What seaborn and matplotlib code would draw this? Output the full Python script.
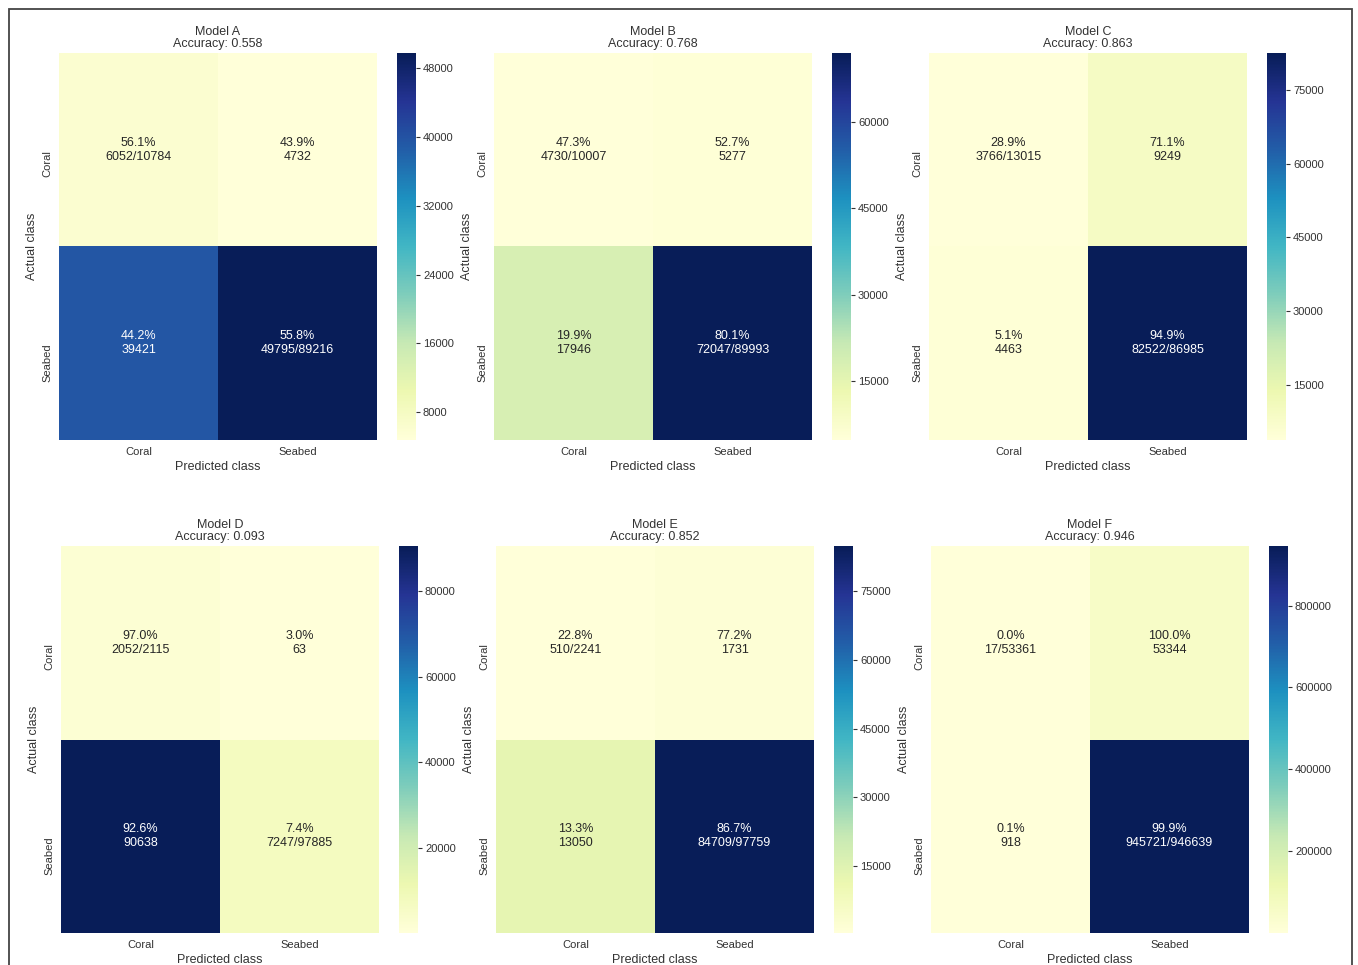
import numpy as np
import pandas as pd
import seaborn as sns
import matplotlib.pyplot as plt
from matplotlib.patches import Rectangle

# Confusion matrices (rows: actual, cols: predicted)
class_names = ["Coral", "Seabed"]
model_names = ["Model A", "Model B", "Model C", "Model D", "Model E", "Model F"]
model_a = [[6052, 4732], [39421, 49795]]
model_b = [[4730, 5277], [17946, 72047]]
model_c = [[3766, 9249], [4463, 82522]]
model_d = [[2052, 63], [90638, 7247]]
model_e = [[510, 1731], [13050, 84709]]
model_f = [[17, 53344], [918, 945721]]
matrices = [model_a, model_b, model_c, model_d, model_e, model_f]

# Colorbar tick values for each panel
cbar_ticks = [
    [8000, 16000, 24000, 32000, 40000, 48000],
    [15000, 30000, 45000, 60000],
    [15000, 30000, 45000, 60000, 75000],
    [20000, 40000, 60000, 80000],
    [15000, 30000, 45000, 60000, 75000],
    [200000, 400000, 600000, 800000],
]

sns.set_style("white")
plt.rcParams["font.family"] = ["Liberation Sans", "DejaVu Sans"]
text_color = "#333333"
plt.rcParams["text.color"] = text_color
plt.rcParams["axes.labelcolor"] = text_color
plt.rcParams["xtick.color"] = text_color
plt.rcParams["ytick.color"] = text_color

W, H = 1358, 965
fig = plt.figure(figsize=(W / 100, H / 100), dpi=100)

# Panel layout in pixels: (left, top) of heatmap axes
panel_origin = [(59, 53), (494, 53), (929, 53), (61, 546), (496, 546), (931, 546)]
ax_w, ax_h = 318, 387
cb_gap, cb_w = 20, 19


def px_rect(x, y, w, h):
    return [x / W, (H - y - h) / H, w / W, h / H]


for name, mat, ticks, (x0, y0) in zip(model_names, matrices, cbar_ticks, panel_origin):
    cm = np.array(mat)
    row_tot = cm.sum(axis=1)
    acc = np.trace(cm) / cm.sum()
    labels = []
    for i in range(2):
        row = []
        for j in range(2):
            pct = cm[i, j] / row_tot[i] * 100
            if i == j:
                row.append(f"{pct:.1f}%\n{cm[i, j]}/{row_tot[i]}")
            else:
                row.append(f"{pct:.1f}%\n{cm[i, j]}")
        labels.append(row)
    df = pd.DataFrame(cm, index=class_names, columns=class_names)

    ax = fig.add_axes(px_rect(x0, y0, ax_w, ax_h))
    cax = fig.add_axes(px_rect(x0 + ax_w + cb_gap, y0, cb_w, ax_h))
    sns.heatmap(df, annot=np.array(labels), fmt="", cmap="YlGnBu", ax=ax, cbar_ax=cax,
                annot_kws={"fontsize": 9})
    ax.set_title(f"{name}\nAccuracy: {acc:.3f}", fontsize=9, pad=4, color=text_color,
                 linespacing=1.1)
    ax.set_xlabel("Predicted class", fontsize=9, labelpad=3)
    ax.set_ylabel("Actual class", fontsize=9, labelpad=3)
    ax.tick_params(axis="both", length=0, labelsize=8, pad=5)
    ax.set_yticklabels(class_names, rotation=90, va="top")
    ax.set_xticklabels(class_names, rotation=0)
    cax.set_yticks(ticks)
    cax.set_yticklabels([str(t) for t in ticks])
    cax.tick_params(axis="y", right=True, length=3, width=0.8, labelsize=8, pad=2,
                    color=text_color)
    for s in cax.spines.values():
        s.set_visible(False)

# Outer frame around the figure
frame = Rectangle((8.5 / W, -0.05), (1352 - 8.5) / W, 1.05 - 9 / H, transform=fig.transFigure,
                  fill=False, edgecolor="#444444", linewidth=1.3)
fig.patches.append(frame)

fig.savefig("out.png", dpi=100)
